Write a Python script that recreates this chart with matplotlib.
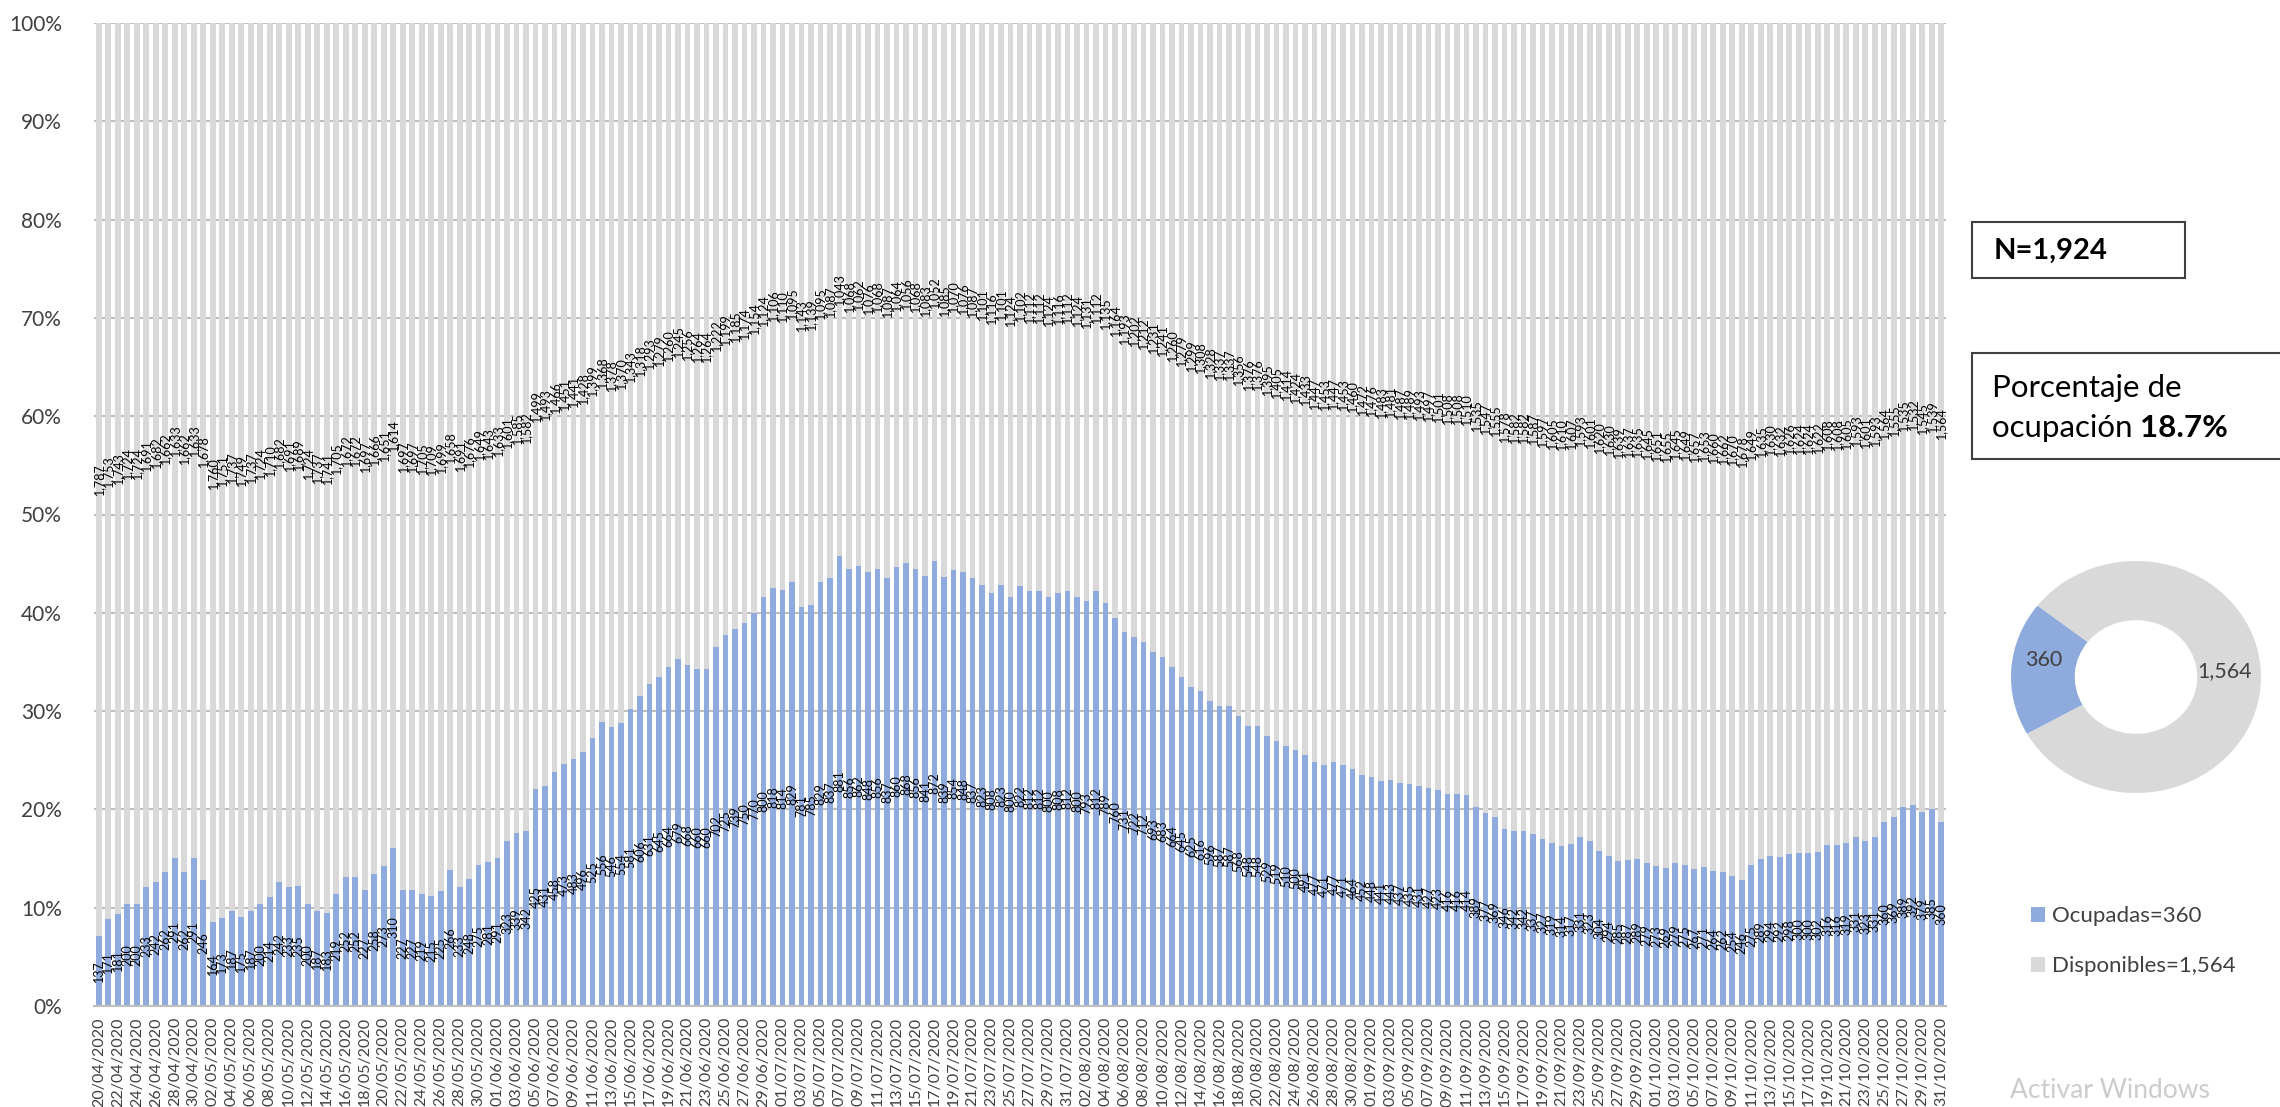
import numpy as np
import pandas as pd
import matplotlib
matplotlib.use('Agg')
import matplotlib.pyplot as plt
from matplotlib.patches import Rectangle

plt.rcParams['font.family'] = ['Lato', 'DejaVu Sans']

W, H = 2280, 1107

total_camas   = 1924
ocupadas_n    = 360
disponibles_n = 1564

# % de camas ocupadas por dia
ocup_abr = [7.1, 8.9, 9.4, 10.4, 10.4, 12.1, 12.6, 13.6, 15.1, 13.6, 15.1]
ocup_may = [12.8, 8.5, 9.0, 9.7, 9.1, 9.7, 10.4, 11.1, 12.6, 12.1, 12.2,
            10.4, 9.7, 9.5, 11.4, 13.1, 13.1, 11.8, 13.4, 14.2, 16.1,
            11.8, 11.8, 11.4, 11.2, 11.7, 13.8, 12.1, 12.9, 14.3, 14.6]
ocup_jun = [15.1, 16.8, 17.6, 17.8, 22.1, 22.4, 23.8, 24.6, 25.1, 25.8,
            27.3, 28.9, 28.4, 28.8, 30.2, 31.5, 32.8, 33.5, 34.5, 35.3,
            34.7, 34.3, 34.3, 36.5, 37.7, 38.4, 39.0, 40.0, 41.6, 42.5]
ocup_jul = [42.3, 43.1, 40.6, 40.8, 43.1, 43.5, 45.8, 44.5, 44.8, 44.1,
            44.5, 43.5, 44.7, 45.1, 44.5, 43.7, 45.3, 43.6, 44.4, 44.1,
            43.5, 42.8, 42.0, 42.8, 41.6, 42.7, 42.2, 42.2, 41.6, 42.0, 42.2]
ocup_ago = [41.6, 41.2, 42.2, 41.0, 39.5, 38.0, 37.5, 37.0, 36.0, 35.5,
            34.5, 33.5, 32.5, 32.0, 31.0, 30.5, 30.5, 29.5, 28.5, 28.5,
            27.5, 27.0, 26.5, 26.0, 25.5, 24.8, 24.5, 24.8, 24.5, 24.1, 23.5]
ocup_sep = [23.3, 22.9, 23.0, 22.7, 22.6, 22.4, 22.2, 22.0, 21.6, 21.6,
            21.5, 20.2, 19.6, 19.2, 18.0, 17.8, 17.8, 17.5, 17.0, 16.6,
            16.3, 16.5, 17.2, 16.8, 15.8, 15.3, 14.8, 14.9, 15.0, 14.5]
ocup_oct = [14.2, 14.0, 14.5, 14.3, 13.9, 14.1, 13.7, 13.6, 13.2, 12.8,
            14.3, 15.0, 15.3, 15.2, 15.5, 15.6, 15.6, 15.7, 16.4, 16.4,
            16.6, 17.2, 16.8, 17.2, 18.7, 19.2, 20.2, 20.4, 19.7, 20.0, 18.7]

ocupacion = np.array(ocup_abr + ocup_may + ocup_jun + ocup_jul +
                     ocup_ago + ocup_sep + ocup_oct)
disponible = 100 - ocupacion
fechas = pd.date_range('2020-04-20', '2020-10-31', freq='D')
etiquetas = list(fechas.strftime('%d/%m/%Y'))

n_ocup = np.round(ocupacion / 100 * total_camas).astype(int)
n_disp = total_camas - n_ocup

azul = '#8FAADC'
gris = '#D9D9D9'
texto = '#404040'

fig = plt.figure(figsize=(W / 100, H / 100), dpi=100)
ax = fig.add_axes([94 / W, 1 - 1006 / H, (1946 - 94) / W, (1006 - 23) / H])

x = np.arange(len(ocupacion))
b_ocup = ax.bar(x, ocupacion, width=0.6, color=azul, zorder=2)
b_disp = ax.bar(x, disponible, bottom=ocupacion, width=0.6, color=gris, zorder=2)

# etiquetas de datos (se enciman como en el original)
for xi, o, d, no, nd in zip(x, ocupacion, disponible, n_ocup, n_disp):
    ax.text(xi, o / 2, f'{no:,}', rotation=90, ha='center', va='center',
            fontsize=9, color='black', zorder=3)
    ax.text(xi, o + d / 2, f'{nd:,}', rotation=90, ha='center', va='center',
            fontsize=9, color='black', zorder=3)

ax.set_xlim(-0.5, len(x) - 0.5)
ax.set_ylim(0, 100)
ax.set_yticks(range(0, 101, 10))
ax.yaxis.set_major_formatter(lambda v, p: f'{v:.0f}%')
ax.yaxis.grid(True, color='#BFBFBF', lw=1.5, zorder=0)
ax.set_axisbelow(True)
ax.set_xticks(x[::2])
ax.set_xticklabels(etiquetas[::2], rotation=90, fontsize=11.5, color=texto)
ax.tick_params(length=0)
ax.tick_params(axis='y', pad=23, labelsize=15, labelcolor=texto)
ax.tick_params(axis='x', pad=8)
for s in ['left', 'right', 'top']:
    ax.spines[s].set_visible(False)
ax.spines['bottom'].set_color('#BFBFBF')
ax.spines['bottom'].set_linewidth(1.5)

# dona
pax = fig.add_axes([(2136 - 125) / W, (H - 677 - 116) / H, 250 / W, 232 / H])
pax.pie([ocupadas_n, disponibles_n], colors=[azul, gris], startangle=142,
        counterclock=True, wedgeprops=dict(width=0.51))
pax.set_xlim(-1, 1)
pax.set_ylim(-1, 1)
pax.set_aspect('auto')
pax.text(-0.74, 0.15, f'{ocupadas_n:,}', ha='center', va='center', fontsize=15.5, color=texto)
pax.text(0.71, 0.05, f'{disponibles_n:,}', ha='center', va='center', fontsize=15.5, color=texto)

fig.legend([b_ocup, b_disp], [f'Ocupadas={ocupadas_n:,}', f'Disponibles={disponibles_n:,}'],
           loc='upper left', bbox_to_anchor=(2031 / W, 1 - 906 / H), frameon=False,
           fontsize=16, handlelength=0.65, handleheight=0.65, handletextpad=0.3,
           labelspacing=1.35, borderaxespad=0, borderpad=0, labelcolor=texto)

# cuadros de texto
fig.add_artist(Rectangle((1972 / W, 1 - 278 / H), 213 / W, 56 / H, transform=fig.transFigure,
                         facecolor='white', edgecolor=texto, lw=1.5))
fig.text(1994 / W, 1 - 251 / H, f'N={total_camas:,}', fontsize=21, fontweight='bold',
         va='center', color='black')

fig.add_artist(Rectangle((1972 / W, 1 - 459 / H), 330 / W, 106 / H, transform=fig.transFigure,
                         facecolor='white', edgecolor=texto, lw=1.5))
fig.text(1992 / W, 1 - 388 / H, 'Porcentaje de', fontsize=22.5, va='center', color='black')
t2 = fig.text(1992 / W, 1 - 428 / H, 'ocupación ', fontsize=22.5, va='center', color='black')
fig.canvas.draw()
bb = t2.get_window_extent()
fig.text(bb.x1 / W, 1 - 428 / H, f'{ocupadas_n / total_camas * 100:.1f}%', fontsize=22.5,
         fontweight='bold', va='center', color='black')

fig.text(2010 / W, 4 / H, 'Activar Windows', fontsize=19, color='#cccccc', va='bottom')

fig.savefig('out.png', dpi=100)
